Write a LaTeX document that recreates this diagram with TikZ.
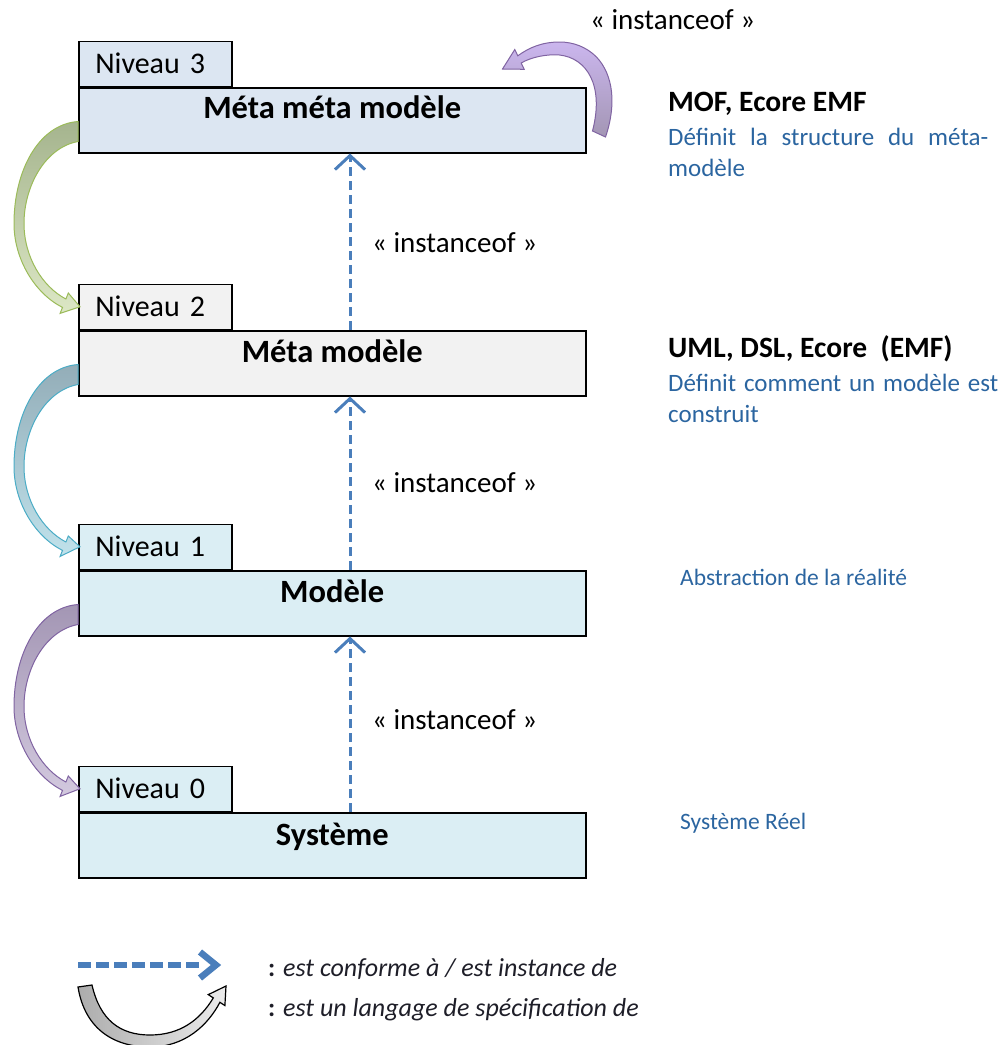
\documentclass[tikz,border=0pt]{standalone}
\usepackage{fontspec}
\setmainfont{Carlito}
\usetikzlibrary{arrows.meta}

% level fills
\definecolor{fillthree}{HTML}{DCE6F2}
\definecolor{filltwo}{HTML}{F2F2F2}
\definecolor{fillone}{HTML}{DBEEF4}
% connectors and text
\definecolor{instblue}{HTML}{4A7EBB}
\definecolor{descblue}{HTML}{2B65A0}
\definecolor{legendink}{HTML}{1E1E28}
% curved block arrows
\definecolor{greenedge}{HTML}{9BBB59}
\definecolor{greentop}{HTML}{A5B48E}
\definecolor{cyanedge}{HTML}{4BACC6}
\definecolor{cyantop}{HTML}{93ADB8}
\definecolor{purpedge}{HTML}{8064A2}
\definecolor{purptop}{HTML}{A396B4}
\definecolor{purpbot}{HTML}{CBB6EE}

% curved "specification" arrow, drawn relative to the source box corner,
% its tip landing on the west side of the target tab
\newcommand{\speccurve}[4]{%
  \begin{scope}[shift={(#1.south west)}]
    \path[draw=#3, line width=1pt, top color=#4, bottom color=#3!35!white]
      (0,-12) .. controls (-33,-6) and (-54,33) .. (-54,70)
      .. controls (-54,103) and (-36,133) .. (-12.1,145.5)
      -- (-9.7,139.5) -- ([xshift=2pt]#2.west) -- (-17.9,159.9) -- (-15.5,153.9)
      .. controls (-43,140) and (-64,106) .. (-64,70)
      .. controls (-64,18) and (-40,-29) .. (0,-32) -- cycle;
  \end{scope}}

\begin{document}
\begin{tikzpicture}[x=1pt,y=-1pt,
  levelbox/.style={draw=black, line width=1.5pt, minimum width=507pt,
    minimum height=65pt, inner sep=0pt, anchor=north west},
  leveltab/.style={draw=black, line width=1.5pt, minimum height=45pt,
    text width=120pt, inner xsep=16.5pt, inner ysep=0pt, align=left,
    anchor=south west, font=\fontsize{30}{34}\selectfont,
    text height=19pt, text depth=0pt},
  boxtitle/.style={font=\fontsize{32.5}{36}\selectfont\bfseries, inner sep=0pt,
    text height=20.8pt, text depth=0pt},
  stereo/.style={font=\fontsize{29}{33}\selectfont, anchor=west, inner sep=0pt,
    text height=18.6pt, text depth=0pt},
  techname/.style={font=\fontsize{29.5}{33}\selectfont\bfseries, anchor=west,
    inner sep=0pt, text height=18.9pt, text depth=0pt},
  desc/.style={font=\fontsize{25}{30}\selectfont, text=descblue, anchor=west,
    inner sep=0pt, text height=16pt, text depth=0pt},
  note/.style={font=\fontsize{23.5}{28}\selectfont, text=descblue, anchor=west,
    inner sep=0pt, text height=15pt, text depth=0pt},
  legendtext/.style={font=\fontsize{26}{30}\selectfont, text=legendink,
    anchor=west, inner sep=0pt, text height=16.6pt, text depth=0pt},
  inst/.style={draw=instblue, line width=3pt, dash pattern=on 9pt off 5pt,
    -{Straight Barb[length=14pt,width=30pt]}},
]
\useasboundingbox (0,0) rectangle (1003,1045);

% ---- the four levels ----
\node[levelbox, fill=fillthree] (b3) at (78,87) {};
\node[leveltab, fill=fillthree] (t3) at (78,87) {Niveau 3};
\node[boxtitle] (n3) at ([yshift=-21pt]b3.north) {Méta méta modèle};

\node[levelbox, fill=filltwo] (b2) at (78,330) {};
\node[leveltab, fill=filltwo] (t2) at (78,330) {Niveau 2};
\node[boxtitle] (n2) at ([yshift=-22pt]b2.north) {Méta modèle};

\node[levelbox, fill=fillone] (b1) at (78,570) {};
\node[leveltab, fill=fillone] (t1) at (78,570) {Niveau 1};
\node[boxtitle] (n1) at ([yshift=-22pt]b1.north) {Modèle};

\node[levelbox, fill=fillone] (b0) at (78,812) {};
\node[leveltab, fill=fillone] (t0) at (78,812) {Niveau 0};
\node[boxtitle] (n0) at ([yshift=-23pt]b0.north) {Système};

% ---- instanceof connectors ----
\coordinate (ax) at (350,0);
\draw[inst] (b0.north -| ax) -- (b1.south -| ax);
\draw[inst] (b1.north -| ax) -- (b2.south -| ax);
\draw[inst] (b2.north -| ax) -- (b3.south -| ax);

\node[stereo] (s1) at (372,720) {«~instanceof~»};
\node[stereo] (s2) at (372,483) {«~instanceof~»};
\node[stereo] (s3) at (372,243) {«~instanceof~»};
\node[stereo] (s4) at (590,20) {«~instanceof~»};

% ---- specification arrows on the left ----
\speccurve{b3}{t2}{greenedge}{greentop}
\speccurve{b2}{t1}{cyanedge}{cyantop}
\speccurve{b1}{t0}{purpedge}{purptop}

% self loop of the top level
\begin{scope}[shift={(b3.north east)}]
  \path[draw=purpedge, line width=1pt, top color=purpbot, bottom color=purptop]
    (19,50) .. controls (30,18) and (27,-12) .. (10,-30)
    .. controls (0,-40) and (-13,-45) .. (-27,-45)
    .. controls (-45,-45) and (-58,-39) .. (-68.7,-31.2)
    -- (-71.7,-37.5) -- (-84,-18) -- (-62.3,-17.7) -- (-65.3,-24)
    .. controls (-55,-30) and (-40,-33) .. (-27,-32)
    .. controls (0,-29) and (18,-2) .. (6,44) -- cycle;
\end{scope}

% ---- descriptions on the right ----
\node[techname] (m3) at (668,102) {MOF, Ecore EMF};
\node[desc] (d3a) at (668,137) {\hbox to 320pt{Définit\hfill la\hfill structure\hfill du\hfill méta-}};
\node[desc] (d3b) at (668,168) {modèle};

\node[techname] (m2) at (668,348) {UML, DSL, Ecore\ \ (EMF)};
\node[desc] (d2a) at (668,383) {\hbox to 330pt{Définit\hfill comment\hfill un\hfill modèle\hfill est}};
\node[desc] (d2b) at (668,414) {construit};

\node[note] (d1) at (680,578) {Abstraction de la réalité};
\node[note] (d0) at (680,822) {Système Réel};

% ---- legend ----
\coordinate (la) at (78,965);
\coordinate (lb) at (202,965);
\draw[draw=instblue, line width=6pt, dash pattern=on 13pt off 5pt] (la) -- (lb);
\draw[draw=instblue, line width=6.5pt, line join=miter] (200,952) -- (216,965) -- (200,978);

\path[draw=black, line width=1.2pt, left color=gray!65, right color=gray!15]
  (78,987) .. controls (85,1030) and (115,1047) .. (150,1047)
  .. controls (185,1047) and (208,1025) .. (219.9,1002.3)
  -- (224.9,1005.6) -- (226,986) -- (208.3,994.6) -- (213.3,997.9)
  .. controls (200,1020) and (180,1035) .. (150,1035)
  .. controls (120,1035) and (100,1020) .. (92,985) -- cycle;

\node[legendtext] (lg1) at (268,968) {{\bfseries :} \textit{est conforme à / est instance de}};
\node[legendtext] (lg2) at (268,1008) {{\bfseries :} \textit{est un langage de spécification de}};
\end{tikzpicture}
\end{document}
